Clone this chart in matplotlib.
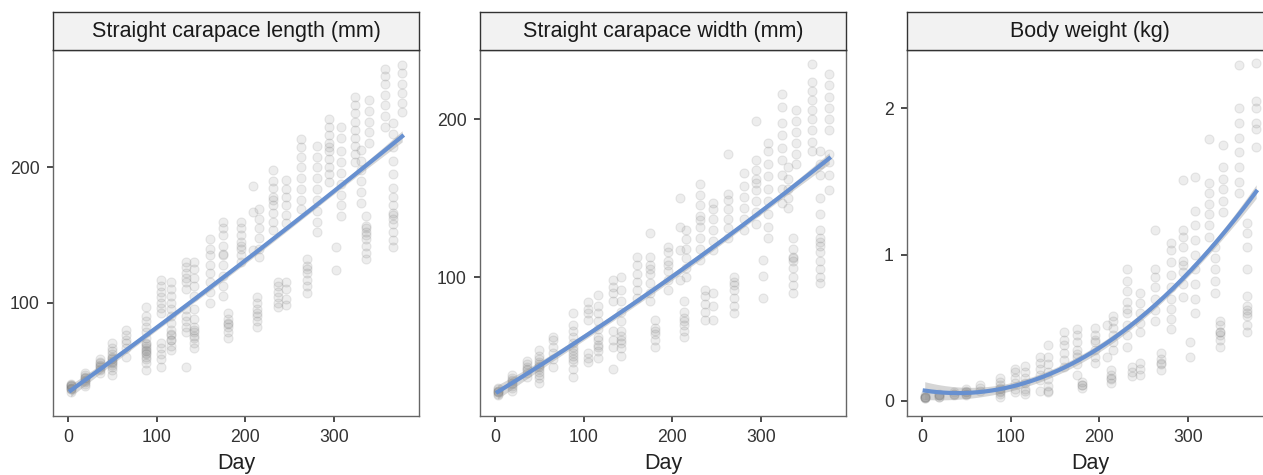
import numpy as np
import matplotlib
matplotlib.use("Agg")
import matplotlib.pyplot as plt

days = [3, 19, 36, 50, 65, 88, 105, 116, 133, 142, 160, 175, 181, 195, 209, 213, 216,
        231, 237, 246, 263, 270, 281, 294, 302, 308, 324, 331, 336, 340, 358, 367, 377]

scl = [
    [34, 36, 37, 38, 39, 40, 36, 38, 37, 39],
    [38, 40, 42, 44, 46, 48, 41, 43, 44, 45],
    [48, 50, 52, 54, 56, 58, 51, 53, 55],
    [46, 50, 54, 56, 58, 60, 62, 64, 66, 70, 52, 57, 55, 59],
    [60, 66, 72, 76, 80, 70],
    [50, 55, 58, 60, 62, 65, 68, 70, 74, 78, 82, 86, 90, 97, 64, 66, 63, 69],
    [52, 58, 62, 66, 70, 92, 96, 100, 104, 108, 112, 117],
    [65, 68, 72, 76, 80, 85, 90, 95, 100, 105, 110, 115, 72, 77],
    [52, 78, 82, 86, 90, 95, 110, 115, 118, 122, 126, 130],
    [66, 70, 74, 78, 82, 88, 95, 105, 112, 118, 125, 130, 75, 80],
    [100, 108, 115, 122, 128, 135, 140, 147],
    [105, 112, 120, 128, 135, 142, 150, 155, 160, 136],
    [74, 78, 82, 85, 88, 92, 84],
    [130, 135, 140, 145, 150, 155, 160, 142],
    [139, 167, 186],
    [82, 86, 90, 95, 100, 104, 92],
    [134, 140, 148, 155, 162, 169],
    [154, 160, 166, 172, 178, 185, 190, 198, 176],
    [97, 100, 104, 108, 112, 115],
    [159, 165, 172, 178, 184, 191, 98, 103, 110, 115],
    [169, 176, 184, 192, 200, 208, 215, 221],
    [107, 112, 117, 122, 127, 132, 125],
    [152, 160, 168, 176, 184, 192, 200, 208, 216],
    [189, 195, 200, 206, 212, 218, 224, 230, 236, 215],
    [124, 141],
    [164, 172, 180, 188, 196, 204, 212, 222, 230],
    [204, 210, 216, 222, 228, 234, 240, 246, 252],
    [174, 182, 190, 198, 205, 213],
    [132, 137, 142, 147, 152, 157, 164, 150, 155],
    [218, 226, 234, 242, 250],
    [230, 238, 246, 254, 262, 268, 273],
    [141, 146, 152, 158, 165, 172, 178, 185, 195, 205, 215, 225, 233, 162, 166],
    [241, 248, 255, 262, 270, 276],
]

scw = [
    [25, 27, 28, 30, 26, 29, 27, 28],
    [28, 30, 32, 34, 36, 38, 31, 33, 35],
    [37, 39, 41, 43, 45, 47, 42],
    [33, 36, 38, 40, 42, 44, 46, 48, 50, 54, 43, 45],
    [43, 48, 52, 56, 60, 62],
    [37, 42, 46, 50, 54, 58, 62, 66, 70, 77, 48, 52, 56],
    [46, 49, 52, 73, 77, 80, 84],
    [49, 53, 57, 62, 67, 72, 77, 82, 89, 56, 60],
    [42, 56, 60, 66, 85, 90, 94, 98],
    [50, 55, 60, 66, 72, 78, 85, 92, 100, 58, 63],
    [87, 92, 97, 102, 108, 113],
    [85, 90, 96, 102, 108, 113, 128, 105],
    [56, 60, 64, 68, 73, 66],
    [92, 98, 104, 110, 116, 119, 108],
    [98, 117, 132, 150],
    [62, 66, 70, 74, 78, 85, 72],
    [100, 106, 112, 118, 124, 130],
    [111, 118, 125, 132, 139, 146, 152, 159, 136],
    [73, 78, 83, 88, 92],
    [117, 123, 130, 137, 143, 147, 73, 82, 90],
    [125, 131, 137, 143, 149, 153, 178],
    [77, 82, 87, 92, 97, 100, 95],
    [130, 137, 144, 151, 158, 166],
    [134, 141, 148, 155, 162, 168, 174, 199, 160],
    [87, 101, 111],
    [125, 132, 140, 148, 156, 164, 172, 180, 185],
    [147, 156, 165, 174, 182, 190, 198, 208, 216],
    [144, 150, 156, 162, 170],
    [90, 95, 100, 106, 112, 118, 125, 110, 113],
    [172, 178, 185, 192, 199, 206],
    [180, 186, 193, 200, 206, 212, 218, 224, 235],
    [96, 100, 105, 110, 116, 122, 130, 140, 150, 165, 172, 180, 120, 125],
    [155, 165, 173, 178, 193, 200, 207, 214, 222, 229],
]

bw = [
    [0.02, 0.03, 0.03, 0.04, 0.03, 0.02, 0.03],
    [0.03, 0.04, 0.04, 0.05, 0.03, 0.04],
    [0.04, 0.05, 0.06, 0.05],
    [0.04, 0.05, 0.06, 0.07, 0.08, 0.05, 0.06],
    [0.07, 0.09, 0.11],
    [0.03, 0.05, 0.07, 0.09, 0.11, 0.13, 0.16, 0.06, 0.08],
    [0.06, 0.08, 0.12, 0.16, 0.20, 0.22],
    [0.05, 0.08, 0.12, 0.16, 0.20, 0.24, 0.07],
    [0.07, 0.14, 0.18, 0.22, 0.26, 0.30],
    [0.06, 0.10, 0.15, 0.20, 0.25, 0.30, 0.38, 0.07],
    [0.23, 0.28, 0.33, 0.38, 0.42, 0.47],
    [0.18, 0.25, 0.30, 0.35, 0.40, 0.45, 0.49, 0.32],
    [0.09, 0.11, 0.13, 0.11],
    [0.26, 0.30, 0.35, 0.40, 0.45, 0.50, 0.42],
    [0.30, 0.52],
    [0.12, 0.15, 0.18, 0.21, 0.16],
    [0.35, 0.40, 0.45, 0.50, 0.55, 0.58],
    [0.37, 0.45, 0.52, 0.60, 0.68, 0.75, 0.82, 0.90, 0.63],
    [0.17, 0.20, 0.23],
    [0.47, 0.53, 0.60, 0.67, 0.74, 0.18, 0.22, 0.26],
    [0.55, 0.62, 0.70, 0.78, 0.85, 0.90, 1.17],
    [0.21, 0.25, 0.29, 0.33, 0.26],
    [0.49, 0.56, 0.63, 0.70, 0.78, 0.86, 0.95, 1.03, 1.08],
    [0.71, 0.80, 0.88, 0.96, 1.05, 1.12, 1.17, 1.51, 0.93],
    [0.30, 0.40],
    [0.60, 0.70, 0.80, 0.90, 1.00, 1.10, 1.20, 1.30, 1.53],
    [1.12, 1.20, 1.28, 1.35, 1.42, 1.49, 1.79],
    [0.74, 0.82, 0.90, 0.98, 1.05],
    [0.37, 0.42, 0.47, 0.52, 0.55, 0.45, 0.47],
    [1.29, 1.37, 1.45, 1.52, 1.60, 1.75],
    [1.42, 1.50, 1.60, 1.70, 1.80, 1.90, 2.00, 2.30],
    [0.47, 0.52, 0.58, 0.65, 0.72, 0.90, 1.05, 1.15, 1.22, 0.60, 0.62],
    [1.74, 1.86, 1.90, 2.00, 2.05, 2.31],
]

titles = ["Straight carapace length (mm)", "Straight carapace width (mm)", "Body weight (kg)"]
yticks = [[100, 200], [100, 200], [0, 1, 2]]
ylims = [(16, 287), (12, 244), (-0.103, 2.40)]
fit_degree = [2, 2, 2]
# circles overlap a lot in the original: each visible mark stands for several fish
marks_weight = 5


def flatten(groups):
    x = np.concatenate([[d] * len(v) for d, v in zip(days, groups)]).astype(float)
    y = np.concatenate(groups).astype(float)
    return x, y


def poly_smooth(x, y, xs, deg, w):
    # least squares polynomial with a 95% confidence band
    xm, xsd = x.mean(), x.std()
    X = np.vander((x - xm) / xsd, deg + 1)
    beta, *_ = np.linalg.lstsq(X, y, rcond=None)
    res = y - X @ beta
    n = len(x) * w
    sigma2 = w * np.sum(res ** 2) / (n - deg - 1)
    cov = sigma2 * np.linalg.inv(w * X.T @ X)
    Xs = np.vander((xs - xm) / xsd, deg + 1)
    fit = Xs @ beta
    se = np.sqrt(np.einsum('ij,jk,ik->i', Xs, cov, Xs))
    return fit, se


plt.rcParams['font.family'] = ['Liberation Sans', 'DejaVu Sans']

W, H = 1263, 475
fig = plt.figure(figsize=(W / 100, H / 100), dpi=100)
lefts = [53, 480, 907]
pw, top, bottom = 366, 50, 416
strip_h = 38

for i, groups in enumerate([scl, scw, bw]):
    l = lefts[i]
    ax = fig.add_axes([l / W, (H - bottom) / H, pw / W, (bottom - top) / H])
    x, y = flatten(groups)
    ax.scatter(x, y, s=42, facecolor=(0.45, 0.45, 0.45, 0.12),
               edgecolor=(0.45, 0.45, 0.45, 0.15), linewidths=0.8, zorder=2)
    xs = np.linspace(x.min(), x.max(), 150)
    fit, se = poly_smooth(x, y, xs, fit_degree[i], marks_weight)
    ax.fill_between(xs, fit - 1.97 * se, fit + 1.97 * se, color='#999999', alpha=0.4,
                    lw=0, zorder=3)
    ax.plot(xs, fit, color='#6790D0', lw=3, zorder=4)

    ax.set_xlim(-17, 396)
    ax.set_ylim(*ylims[i])
    ax.set_xticks([0, 100, 200, 300])
    ax.set_yticks(yticks[i])
    ax.tick_params(labelsize=12.7, colors='#1A1A1A', length=4.5, width=1.1,
                   labelcolor='#333333', pad=5)
    for s in ax.spines.values():
        s.set_color('#666666')
        s.set_linewidth(1)
    ax.set_xlabel("Day", fontsize=15.5, color='#222222', labelpad=5)

    sax = fig.add_axes([l / W, (H - top) / H, pw / W, strip_h / H])
    sax.set_facecolor('#F2F2F2')
    sax.set_xticks([])
    sax.set_yticks([])
    for s in sax.spines.values():
        s.set_color('#333333')
        s.set_linewidth(1)
    sax.text(0.5, 0.5, titles[i], ha='center', va='center', fontsize=15.5,
             color='#1A1A1A', transform=sax.transAxes)

fig.savefig("out.png", dpi=100)
